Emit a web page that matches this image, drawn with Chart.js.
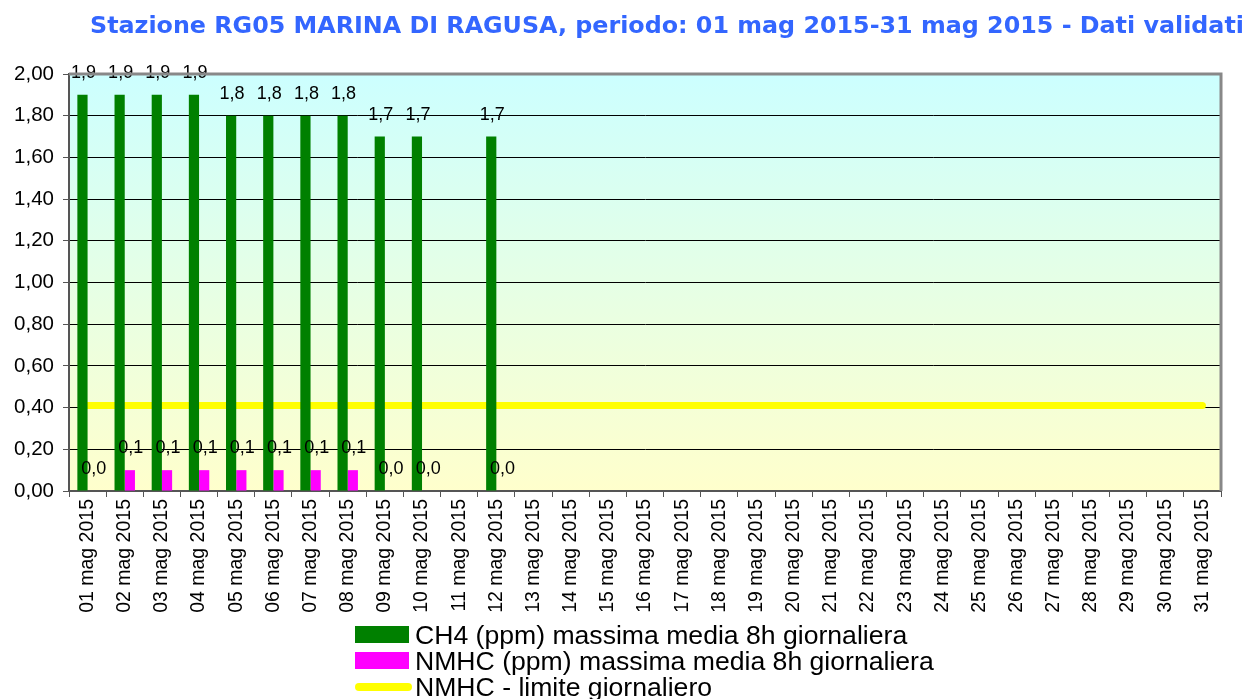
<!DOCTYPE html>
<html lang="it">
<head>
    <meta charset="UTF-8">
    <title>RG05 Marina di Ragusa</title>
    <script src="https://cdn.jsdelivr.net/npm/chart.js"></script>
    <style>
        body { margin: 0; background: #fff; }
        .wrap { position: relative; width: 1249px; height: 699px; overflow: hidden; }
        .title {
            position: absolute; left: 90px; top: 11px; white-space: nowrap;
            font: bold 23.8px "DejaVu Sans", Verdana, sans-serif; color: #3366FF;
        }
        .legend {
            position: absolute; left: 355px; top: 622px;
            font: 26.6px "Liberation Sans", Arial, sans-serif; color: #000;
        }
        .legend div { height: 26px; line-height: 26px; white-space: nowrap; }
        .legend span { display: inline-block; vertical-align: middle; margin-right: 6px; position: relative; top: -2px; }
        .sw-box { width: 54px; height: 17px; }
        .sw-line { width: 57px; height: 8px; border-radius: 4px; background: #FFFF00; margin-right: 3px !important; }
    </style>
</head>
<body>
<div class="wrap">
    <canvas id="chart" width="1249" height="699"></canvas>
    <div class="title">Stazione RG05 MARINA DI RAGUSA, periodo: 01 mag 2015-31 mag 2015 - Dati validati</div>
    <div class="legend">
        <div><span class="sw-box" style="background:#008000"></span>CH4 (ppm) massima media 8h giornaliera</div>
        <div><span class="sw-box" style="background:#FF00FF"></span>NMHC (ppm) massima media 8h giornaliera</div>
        <div><span class="sw-line"></span>NMHC - limite giornaliero</div>
    </div>
</div>
<script>
    // days of May 2015
    const days = ['01', '02', '03', '04', '05', '06', '07', '08', '09', '10', '11', '12', '13', '14', '15', '16',
                  '17', '18', '19', '20', '21', '22', '23', '24', '25', '26', '27', '28', '29', '30', '31'];
    const labels = days.map(d => d + ' mag 2015');

    // CH4 max 8h daily mean (ppm)
    const ch4 = [1.9, 1.9, 1.9, 1.9, 1.8, 1.8, 1.8, 1.8, 1.7, 1.7, null, 1.7,
                 null, null, null, null, null, null, null, null, null, null, null, null, null, null, null, null, null, null, null];
    // NMHC max 8h daily mean (ppm)
    const nmhc = [0.0, 0.1, 0.1, 0.1, 0.1, 0.1, 0.1, 0.1, 0.0, 0.0, null, 0.0,
                  null, null, null, null, null, null, null, null, null, null, null, null, null, null, null, null, null, null, null];
    // NMHC daily limit
    const limite = [0.41, 0.41, 0.41, 0.41, 0.41, 0.41, 0.41, 0.41, 0.41, 0.41, 0.41, 0.41, 0.41, 0.41, 0.41, 0.41,
                    0.41, 0.41, 0.41, 0.41, 0.41, 0.41, 0.41, 0.41, 0.41, 0.41, 0.41, 0.41, 0.41, 0.41, 0.41];

    const fmt = (v, n) => v.toFixed(n).replace('.', ',');

    // gradient background + gray frame
    const plotBg = {
        id: 'plotBg',
        beforeDraw(chart) {
            const {ctx, chartArea: a} = chart;
            const g = ctx.createLinearGradient(0, a.top, 0, a.bottom);
            g.addColorStop(0, '#CCFFFF');
            g.addColorStop(1, '#FFFFCC');
            ctx.save();
            ctx.fillStyle = g;
            ctx.fillRect(a.left, a.top, a.right - a.left, a.bottom - a.top);
            ctx.restore();
        },
        afterDraw(chart) {
            const {ctx, chartArea: a} = chart;
            ctx.save();
            ctx.strokeStyle = '#888888';
            ctx.lineWidth = 3;
            ctx.beginPath();
            ctx.moveTo(a.left, a.top);
            ctx.lineTo(a.right, a.top);
            ctx.lineTo(a.right, a.bottom);
            ctx.stroke();
            ctx.restore();
        }
    };

    // value labels above the bars
    const barLabels = {
        id: 'barLabels',
        afterDatasetsDraw(chart) {
            const ctx = chart.ctx;
            ctx.save();
            ctx.font = '18px "Liberation Sans", Arial, sans-serif';
            ctx.fillStyle = '#000';
            ctx.textAlign = 'center';
            ctx.textBaseline = 'middle';
            chart.data.datasets.forEach((ds, i) => {
                if (ds.type === 'line') return;
                chart.getDatasetMeta(i).data.forEach((el, j) => {
                    const v = ds.data[j];
                    if (v === null) return;
                    ctx.fillText(fmt(v, 1), el.x + 1, el.y - 22);
                });
            });
            ctx.restore();
        }
    };

    new Chart(document.getElementById('chart'), {
        type: 'bar',
        data: {
            labels: labels,
            datasets: [{
                label: 'CH4 (ppm) massima media 8h giornaliera',
                data: ch4,
                backgroundColor: '#008000',
                categoryPercentage: 0.55,
                barPercentage: 1.0,
                order: 1
            }, {
                label: 'NMHC (ppm) massima media 8h giornaliera',
                data: nmhc,
                backgroundColor: '#FF00FF',
                categoryPercentage: 0.55,
                barPercentage: 1.0,
                order: 1
            }, {
                type: 'line',
                label: 'NMHC - limite giornaliero',
                data: limite,
                borderColor: '#FFFF00',
                borderWidth: 7,
                borderCapStyle: 'round',
                pointRadius: 0,
                fill: false,
                order: 2
            }]
        },
        options: {
            responsive: false,
            animation: false,
            layout: { padding: { top: 74, right: 28, left: 0, bottom: 0 } },
            plugins: {
                legend: { display: false },
                title: { display: false },
                tooltip: { enabled: false }
            },
            scales: {
                x: {
                    afterFit: s => { s.height = 208; },
                    grid: { offset: true, drawOnChartArea: false, tickLength: 6, color: '#555' },
                    border: { color: '#555', width: 2 },
                    ticks: {
                        minRotation: 90, maxRotation: 90, autoSkip: false, padding: 2,
                        color: '#000', font: { family: '"Liberation Sans", Arial, sans-serif', size: 19.5 }
                    }
                },
                y: {
                    min: 0, max: 2,
                    afterFit: s => { s.width = 69; },
                    grid: { color: '#000', tickLength: 6, tickColor: '#555' },
                    border: { color: '#555', width: 2 },
                    ticks: {
                        stepSize: 0.2, padding: 9, color: '#000',
                        font: { family: '"Liberation Sans", Arial, sans-serif', size: 20.5 },
                        callback: v => fmt(v, 2)
                    }
                }
            }
        },
        plugins: [plotBg, barLabels]
    });
</script>
</body>
</html>
